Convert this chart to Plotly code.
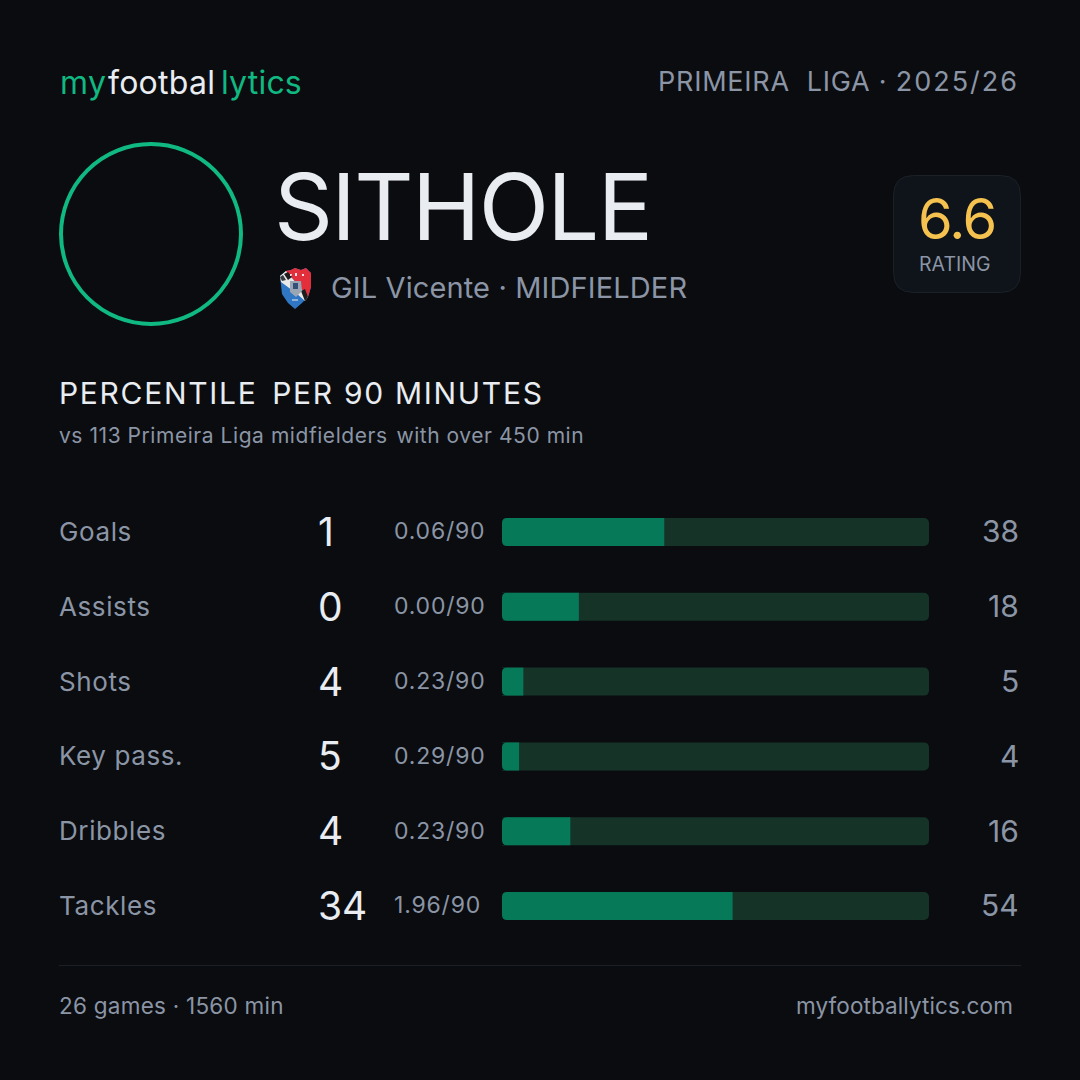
import plotly.graph_objects as go

metrics = ["Goals", "Assists", "Shots", "Key pass.", "Dribbles", "Tackles"]
totals = [1, 0, 4, 5, 4, 34]
per90 = ["0.06/90", "0.00/90", "0.23/90", "0.29/90", "0.23/90", "1.96/90"]
percentiles = [38, 18, 5, 4, 16, 54]
track = [100, 100, 100, 100, 100, 100]

BG = "#0a0c10"
GREEN = "#10b981"
GREY = "#8b95a5"
WHITE = "#e9ecf1"
FONT = "Inter"

def X(p):
    return p / 1080
def Y(p):
    return 1 - p / 1080
def LS(text, px):
    return f'<span style="letter-spacing:{px}px">{text}</span>'

fig = go.Figure()
fig.add_trace(go.Bar(y=metrics, x=track, orientation="h", width=0.374,
                     marker=dict(color="#163328", cornerradius=5, line_width=0), hoverinfo="skip"))
fig.add_trace(go.Bar(y=metrics, x=percentiles, orientation="h", width=0.374,
                     marker=dict(color="#067a58", cornerradius=5, line_width=0), hoverinfo="skip"))

ann = []
def T(x, y, text, size, color, anchor="left", ls=None):
    ann.append(dict(x=X(x), y=Y(y), xref="paper", yref="paper",
                    text=text if ls is None else LS(text, ls), showarrow=False,
                    xanchor=anchor, yanchor="middle", font=dict(family=FONT, size=size, color=color),
                    borderpad=0, borderwidth=0))

T(59.5, 83, "my", 32, GREEN, ls=0.4)
T(108, 83, "footbal", 32, WHITE, ls=0.25)
T(220.5, 83, "lytics", 32, GREEN, ls=0.2)
T(1019, 81.5, LS("PRIMEIRA  LIGA · ", 0.77) + LS("2025/26", 2), 27, GREY, "right")
T(274, 206, "SITHOLE", 92, WHITE, ls=-1.7)
T(331, 288, "GIL Vicente · MIDFIELDER", 29, GREY, ls=0.13)
T(957, 219, "6.6", 56, "#f5c24f", "center", ls=-1.5)
T(954.5, 264, "RATING", 19.5, GREY, "center", ls=0.05)
T(59, 393, LS("PERCENTILE", 1.7) + LS("  ", -1.1) + LS("PER 90 MINUTES", 1.7), 30, WHITE)
T(59, 435, LS("vs 113 Primeira Liga midfielders", 0.55) + LS("  ", -1.5) + LS("with over 450 min", 0.55), 21, GREY)
T(59, 1005.5, "26 games · 1560 min", 22.5, GREY, ls=0.25)
T(1013, 1005.5, "myfootballytics.com", 22.5, GREY, "right", ls=0.1)

for m, t, p, pc in zip(metrics, totals, per90, percentiles):
    f = dict(x=X(58.5), y=m, xref="paper", yref="y", showarrow=False, xanchor="left", yanchor="middle",
             borderpad=0, borderwidth=0, yshift=0.5)
    ann.append({**f, "text": LS(m, 0.6), "font": dict(family=FONT, size=26, color=GREY)})
    ann.append({**f, "x": X(318), "text": str(t), "font": dict(family=FONT, size=39, color=WHITE)})
    ann.append({**f, "x": X(394), "text": LS(p, 0.8), "font": dict(family=FONT, size=23, color=GREY)})
    ann.append({**f, "x": X(1019), "xanchor": "right", "text": str(pc), "font": dict(family=FONT, size=30, color=GREY)})

def P(points):
    return "M " + " L ".join(f"{X(x):.5f},{Y(y):.5f}" for x, y in points) + " Z"

def rrect(x0, y0, x1, y1, r):
    a, b, c, d = X(x0), X(x1), Y(y0), Y(y1)
    rx, ry = r / 1080, r / 1080
    return (f"M {a+rx},{c} L {b-rx},{c} Q {b},{c} {b},{c-ry} L {b},{d+ry} Q {b},{d} {b-rx},{d} "
            f"L {a+rx},{d} Q {a},{d} {a},{d+ry} L {a},{c-ry} Q {a},{c} {a+rx},{c} Z")

def crest(points, color):
    return dict(type="path", xref="paper", yref="paper", line_width=0, fillcolor=color, path=P(points))

def corner_masks(row):
    # plotly rounds only the far end of a bar: mask the two near corners with the page colour
    x0, r = 502, 5
    top = 518 + 74.8 * row
    bot = top + 28
    out = []
    for y, s in ((top, 1), (bot, -1)):
        path = (f"M {X(x0)},{Y(y)} L {X(x0 + r)},{Y(y)} Q {X(x0)},{Y(y)} {X(x0)},{Y(y + s * r)} Z")
        out.append(dict(type="path", xref="paper", yref="paper", path=path, line_width=0,
                        fillcolor=BG, layer="above"))
    return out

shapes = [
    dict(type="circle", xref="paper", yref="paper", x0=X(61), x1=X(241), y0=Y(324), y1=Y(144),
         line=dict(color=GREEN, width=4), fillcolor="rgba(0,0,0,0)"),
    dict(type="path", xref="paper", yref="paper", path=rrect(893.5, 175.5, 1020.5, 292.5, 20),
         line=dict(color="#1c2129", width=1), fillcolor="#0f131a"),
    dict(type="line", xref="paper", yref="paper", x0=X(59), x1=X(1021), y0=Y(965.5), y1=Y(965.5),
         line=dict(color="#1b1f26", width=1)),
    # club crest: shield, red field, chequered band, central emblem
    crest([(280, 276), (286, 271), (291, 270), (295, 268), (301, 270), (306, 268), (311, 273),
           (311, 287), (308, 297), (302, 303), (295, 309), (288, 303), (282, 294)], "#2f77c4"),
    crest([(286, 271), (291, 270), (295, 268), (301, 270), (306, 268), (311, 273), (311, 287),
           (308, 297), (295, 281), (286, 272)], "#e32f3b"),
    crest([(280, 276), (286, 271), (308, 297), (305, 301), (296, 293), (281, 282)], "#e9e9ea"),
    crest([(284, 274), (288, 272), (292, 277), (288, 280)], "#1d1d1f"),
    crest([(280, 277), (283, 275), (286, 280), (282, 281)], "#3a3a3d"),
    crest([(301, 291), (305, 289), (308, 297), (305, 301)], "#1d1d1f"),
    crest([(290, 281), (301, 281), (302, 291), (296, 297), (290, 292)], "#9aa6b4"),
    crest([(293, 283), (298, 283), (298, 289), (293, 289)], "#33507a"),
    crest([(292, 299), (298, 299), (298, 301), (292, 301)], "#8fb3da"),
    crest([(290, 274), (292, 274), (291.5, 276), (290, 276)], "#f4d9d9"),
    crest([(295, 273), (297, 273), (297, 276), (295, 276)], "#f6e3e3"),
    crest([(302, 274), (304, 274), (304, 276), (302, 276)], "#f6e3e3"),
]
for row in range(len(metrics)):
    shapes.extend(corner_masks(row))

fig.update_layout(
    width=1080, height=1080, margin=dict(l=0, r=0, t=0, b=0, pad=0), autosize=False,
    paper_bgcolor=BG, plot_bgcolor=BG, barmode="overlay", showlegend=False,
    annotations=ann, shapes=shapes, font=dict(family=FONT),
    xaxis=dict(domain=[X(502), X(929)], range=[0, 100], visible=False, fixedrange=True),
    yaxis=dict(domain=[Y(943.4), Y(494.6)], categoryorder="array", categoryarray=metrics,
               autorange="reversed", visible=False, fixedrange=True),
)
fig.write_html("out.html", config=dict(displayModeBar=False),
               post_script="document.body.style.margin='0';document.body.style.background='#0a0c10';")
